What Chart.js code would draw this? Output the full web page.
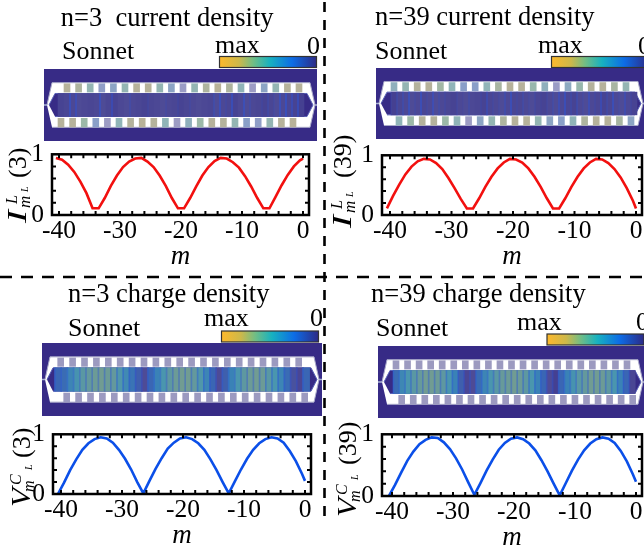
<!DOCTYPE html>
<html>
<head>
<meta charset="utf-8">
<script src="https://cdn.jsdelivr.net/npm/chart.js@4"></script>
<style>
  html, body { margin: 0; padding: 0; background: #fff; }
  #page { position: relative; width: 644px; height: 546px; overflow: hidden; filter: blur(0.45px); }
  canvas { position: absolute; }
  svg { position: absolute; left: 0; top: 0; font-family: "Liberation Serif", serif; fill: #000; }
</style>
</head>
<body>
<div id="page"></div>
<script>
const xTickLabels = [-40, -30, -20, -10, 0];
const yTickLabels = [0, 1];

// m positions of the sampled curve points
const mSamples = [-40.5, -39.5, -38.5, -37.5, -36.5, -35.5, -34.5, -33.5, -32.5, -31.5, -30.5, -29.5, -28.5, -27.5,
    -26.5, -25.5, -24.5, -23.5, -22.5, -21.5, -20.5, -19.5, -18.5, -17.5, -16.5, -15.5, -14.5, -13.5,
    -12.5, -11.5, -10.5, -9.5, -8.5, -7.5, -6.5, -5.5, -4.5, -3.5, -2.5, -1.5, -0.5, 0];

const currentN3 = [.94, .91, .83, .71, .55, .36, .11, .11, .28, .48, .65, .79, .88, .93,
    .94, .88, .79, .65, .48, .28, .11, .11, .28, .47, .65, .79, .89, .94,
    .93, .87, .78, .64, .47, .28, .11, .11, .30, .49, .66, .80, .90, .93];
const currentN39 = [.11, .32, .51, .68, .81, .90, .94, .93, .87, .77, .62, .45, .27, .11,
    .11, .28, .47, .64, .78, .88, .94, .93, .88, .78, .64, .47, .28, .11,
    .11, .28, .47, .64, .78, .88, .94, .93, .87, .77, .63, .45, .24, .11];
const chargeN3 = [.00, .19, .40, .58, .74, .85, .92, .95, .93, .86, .74, .59, .41, .20,
    .01, .22, .42, .60, .76, .86, .93, .95, .92, .85, .74, .58, .40, .20,
    .01, .21, .41, .59, .74, .85, .92, .95, .93, .86, .72, .55, .34, .22];
const chargeN39 = [.00, .18, .38, .57, .72, .84, .91, .95, .94, .87, .76, .61, .43, .22,
    .02, .21, .41, .59, .75, .86, .93, .95, .92, .85, .74, .58, .40, .20,
    .01, .21, .41, .59, .74, .85, .92, .95, .93, .86, .73, .56, .35, .23];

// field strength per feedline cell, picked off the Sonnet images (0 = dark, 1 = max)
const stripsCurN3 = [.09, .10, .11, .12, .11, .10, .11, .12, .10, .09, .11, .12, .11, .10, .09, .10, .11, .12, .11, .10, .09,
    .10, .11, .12, .11, .10, .12, .11, .10, .09, .11, .12, .11, .10, .09, .10, .12, .11, .10, .09, .08];
const linesCurN3 = [0, 0, .35, .3, 0, 0, 0, .35, 0, .3, 0, 0, .15, 0, 0, .1, 0, 0, .1, 0, .1,
    0, .1, 0, 0, 0, .2, .35, .1, .35, 0, .35, .15, 0, .1, .15, .1, .35, .4, .3, .35];
const stripsCurN39 = [.08, .10, .11, .12, .11, .10, .11, .12, .11, .10, .09, .11, .12, .11, .10, .09, .10, .11, .12, .11, .10,
    .10, .11, .12, .10, .09, .11, .12, .11, .10, .09, .11, .12, .11, .10, .09, .10, .11, .12, .11, .09];
const linesCurN39 = [.1, .15, .2, .35, .1, .35, .1, .3, .15, .1, 0, .1, .05, .15, 0, .1, .25, .1, .1, .2, .35,
    .1, .15, .1, .1, .05, .1, .15, .3, .35, .15, .2, .1, .3, .1, .3, .15, .35, .1, .25, .1];
const stripsChgN3 = [.20, .22, .32, .40, .50, .55, .58, .60, .58, .55, .45, .35, .25, .18, .12, .20, .30, .42, .52, .58, .60,
    .60, .55, .45, .32, .20, .12, .18, .30, .42, .52, .58, .60, .58, .50, .42, .32, .22, .14, .10, .20];
const linesChgN3 = [.25, .25, .25, .25, .25, .25, .25, .25, .25, .25, .25, .25, .25, .25, .25, .25, .25, .25, .25, .25, .25,
    .25, .25, .25, .25, .25, .25, .25, .25, .25, .25, .25, .25, .25, .25, .25, .25, .25, .25, .25, .25];
const stripsChgN39 = [.22, .33, .42, .50, .56, .60, .60, .58, .52, .42, .30, .18, .10, .12, .22, .32, .42, .50, .56, .58, .60,
    .58, .52, .42, .30, .20, .12, .08, .20, .30, .40, .50, .55, .60, .60, .58, .52, .42, .30, .20, .10];
const linesChgN39 = [.25, .25, .25, .25, .25, .25, .25, .25, .25, .25, .25, .25, .25, .25, .25, .25, .25, .25, .25, .25, .25,
    .25, .25, .25, .25, .25, .25, .25, .25, .25, .25, .25, .25, .25, .25, .25, .25, .25, .25, .25, .25];

// resonator pads, 21 per row
const padsTopCurN3 = [.85, .75, .5, .2, .3, .5, .85, .85, .5, .3, .12, .5, .75, .9, .75, .45, .1, .3, .5, .85, .85];
const padsBotCurN3 = [.85, .85, .6, .25, .1, .45, .8, .9, .8, .45, .1, .4, .6, .85, .8, .5, .25, .2, .5, .85, .9];
const padsTopCurN39 = [.4, .5, .8, .85, .65, .45, .25, .25, .45, .7, .85, .85, .55, .4, .12, .35, .55, .8, .85, .7, .5];
const padsBotCurN39 = [.45, .6, .8, .8, .6, .45, .1, .3, .5, .75, .85, .85, .5, .3, .25, .45, .75, .85, .85, .7, .3];
const padsChg = [.05, .05, .05, .05, .05, .05, .05, .05, .05, .05, .05, .05, .05, .05, .05, .05, .05, .05, .05, .05, .05];

const RED = '#f2100f', BLUE = '#0b4fe8', PANEL_BG = '#372b86';
const SERIF = '"Liberation Serif", serif';

const stripStops = [[0, '#332b88'], [.12, '#4e4b96'], [.2, '#3a66b4'], [.3, '#3a82b6'], [.42, '#4a96ae'], [.55, '#64999c'], [.65, '#7f9f88'], [1, '#c4b078']];
const padStops = [[0, '#9a98bb'], [.1, '#9d9cc4'], [.25, '#8a9fc8'], [.45, '#90b4b8'], [.6, '#9cb8a8'], [.8, '#b4b29c'], [1, '#bcb296']];

function ramp(stops, v) {
    let i = 1;
    while (i < stops.length - 1 && v > stops[i][0]) i++;
    const [v0, c0] = stops[i - 1], [v1, c1] = stops[i];
    const t = Math.min(1, Math.max(0, (v - v0) / (v1 - v0)));
    const ch = (c, k) => parseInt(c.substr(1 + k * 2, 2), 16);
    return `rgb(${[0, 1, 2].map(k => Math.round(ch(c0, k) + (ch(c1, k) - ch(c0, k)) * t)).join(',')})`;
}

const page = document.getElementById('page');

function addCanvas(left, top, width, height) {
    const c = document.createElement('canvas');
    c.width = width;
    c.height = height;
    c.style.left = left + 'px';
    c.style.top = top + 'px';
    page.appendChild(c);
    return c;
}

// inward ticks on all four sides plus a heavy frame
const framePlugin = {
    id: 'frame',
    afterDraw(chart) {
        const { ctx, chartArea: a, scales: { x, y } } = chart;
        ctx.save();
        ctx.strokeStyle = '#000';
        ctx.lineWidth = 2;
        ctx.beginPath();
        x.ticks.filter(t => t.value >= x.min && t.value <= x.max).forEach(t => {
            const p = x.getPixelForValue(t.value);
            ctx.moveTo(p, a.top); ctx.lineTo(p, a.top + 4);
            ctx.moveTo(p, a.bottom); ctx.lineTo(p, a.bottom - 4);
        });
        y.ticks.filter(t => t.value > y.min && t.value < y.max).forEach(t => {
            const p = y.getPixelForValue(t.value);
            ctx.moveTo(a.left, p); ctx.lineTo(a.left + 4, p);
            ctx.moveTo(a.right, p); ctx.lineTo(a.right - 4, p);
        });
        ctx.stroke();
        ctx.lineWidth = 2.5;
        ctx.strokeRect(a.left, a.top, a.right - a.left, a.bottom - a.top);
        ctx.restore();
    }
};

function renderCurve(box, values, color) {
    const padL = 40, padT = 12, padR = 4, padB = 58;
    const width = Math.min(box.right + padR, 644) - (box.left - padL);
    const canvas = addCanvas(box.left - padL, box.top - padT, width, box.bottom - box.top + padT + padB);
    const pxPerM = (box.zero - box.minus40) / 40;
    new Chart(canvas, {
        type: 'scatter',
        data: {
            datasets: [{
                data: mSamples.map((m, i) => ({ x: m, y: values[i] })),
                showLine: true,
                borderColor: color,
                borderWidth: 2.6,
                pointRadius: 0,
                tension: 0
            }]
        },
        plugins: [framePlugin],
        options: {
            responsive: false,
            animation: false,
            layout: { padding: { top: padT, right: width - padL - (box.right - box.left) } },
            plugins: { legend: { display: false }, tooltip: { enabled: false } },
            scales: {
                x: {
                    min: (box.left - box.zero) / pxPerM,
                    max: (box.right - box.zero) / pxPerM,
                    grid: { display: false },
                    border: { display: false },
                    afterFit: s => { s.height = padB; },
                    title: { display: true, text: 'm', color: '#000', padding: 0, font: { family: SERIF, size: 27, style: 'italic' } },
                    ticks: {
                        stepSize: 2,
                        includeBounds: false,
                        autoSkip: false,
                        maxRotation: 0,
                        minRotation: 0,
                        padding: -7,
                        color: '#000',
                        font: { family: SERIF, size: 25.5 },
                        callback: v => xTickLabels.includes(v) ? String(v) : ''
                    }
                },
                y: {
                    min: 0,
                    max: 1,
                    grid: { display: false },
                    border: { display: false },
                    afterFit: s => { s.width = padL; },
                    ticks: {
                        stepSize: 0.2,
                        autoSkip: false,
                        padding: 0,
                        color: '#000',
                        font: { family: SERIF, size: 25.5 },
                        callback: v => yTickLabels.includes(v) ? String(v) : ''
                    }
                }
            }
        }
    });
}

// Sonnet field map: feedline cells and pads are floating bars on a cell-index axis
function renderFieldMap(p) {
    const canvas = addCanvas(p.left, p.top, p.width, p.height);
    canvas.style.background = PANEL_BG;
    const toCell = px => (px - p.cellsLeft) / p.cellPx - 0.5;
    const xMin = toCell(p.left), xMax = toCell(p.left + p.width);
    const L = p.shapeLeft, R = p.shapeRight;

    const outline = [[L - 5, .5], [L, .81], [R, .81], [R + 5, .5], [R, .19], [L, .19]];
    const inner = [[L - 3, .5], [L + 3, .66], [R - 3, .66], [R + 3, .5], [R - 3, .34], [L + 3, .34]];
    const poly = a => a.map(([x, y]) => ({ x: toCell(x), y }));
    const pads = (vals, start, lo, hi) => vals.map((v, j) => ({ x: toCell(start + j * p.padPitch), y: [lo, hi] }));

    new Chart(canvas, {
        type: 'bar',
        data: {
            datasets: [
                { data: pads(p.padsTop, p.padTopX, .68, .795), backgroundColor: p.padsTop.map(v => ramp(padStops, v)), barThickness: 6, grouped: false, order: 1 },
                { data: pads(p.padsBot, p.padBotX, .195, .315), backgroundColor: p.padsBot.map(v => ramp(padStops, v)), barThickness: 6, grouped: false, order: 1 },
                { data: p.lines.map((v, i) => ({ x: i - 0.5, y: [.34, .66] })), backgroundColor: p.lines.map(v => v > 0 ? `rgba(45,85,215,${Math.min(1, v * 1.7)})` : 'transparent'), barThickness: 1, grouped: false, order: 2 },
                { data: p.strips.map((v, i) => ({ x: i, y: [.34, .66] })), backgroundColor: p.strips.map(v => ramp(stripStops, v)), barThickness: Math.ceil(p.cellPx), grouped: false, order: 3 },
                { type: 'line', data: poly(inner), fill: 'shape', backgroundColor: PANEL_BG, borderColor: '#5a63b8', borderWidth: 1, pointRadius: 0, tension: 0, order: 4 },
                { type: 'line', data: poly(outline), fill: 'shape', backgroundColor: '#fff', borderColor: '#a9a9c9', borderWidth: 1, pointRadius: 0, tension: 0, order: 5 },
                { type: 'line', data: [{ x: xMin, y: .5 }, { x: toCell(L - 5), y: .5 }], borderColor: '#a9b3d4', borderWidth: 1.5, pointRadius: 0, order: 6 },
                { type: 'line', data: [{ x: toCell(R + 5), y: .5 }, { x: xMax, y: .5 }], borderColor: '#a9b3d4', borderWidth: 1.5, pointRadius: 0, order: 6 }
            ]
        },
        options: {
            responsive: false,
            animation: false,
            layout: { padding: 0 },
            plugins: { legend: { display: false }, tooltip: { enabled: false } },
            scales: {
                x: { type: 'linear', min: xMin, max: xMax, offset: false, display: false },
                y: { min: 0, max: 1, display: false }
            }
        }
    });
}

// annotations as svg text so baselines are exact
const svgNS = 'http://www.w3.org/2000/svg';
const svg = document.createElementNS(svgNS, 'svg');
svg.setAttribute('width', 644);
svg.setAttribute('height', 546);

function el(name, attrs, text, parent) {
    const n = document.createElementNS(svgNS, name);
    Object.entries(attrs).forEach(([k, v]) => n.setAttribute(k, v));
    if (text) n.textContent = text;
    (parent || svg).appendChild(n);
    return n;
}

function addText(x, y, str, size) {
    el('text', { x, y, 'font-size': size, style: 'white-space:pre' }, str);
}

function addColorbar(x, y, w, h) {
    el('rect', { x, y, width: w, height: h, fill: 'url(#cbar)', stroke: '#333', 'stroke-width': 1.2 });
}

// rotated y label: baseline origin (ox, oy), up the page is +x in the group
function addYLabel(ox, oy, main, sup, sub, tail, o) {
    const g = el('g', { transform: `translate(${ox} ${oy}) rotate(-90)` });
    el('text', { x: 0, y: 0, 'font-size': 28, 'font-style': 'italic', textLength: o.mainLen, lengthAdjust: 'spacingAndGlyphs' }, main, g);
    el('text', { x: o.m, y: 4, 'font-size': o.mSize, 'font-style': 'italic' }, 'm', g);
    el('text', { x: o.sup, y: -9, 'font-size': 16, 'font-style': 'italic' }, sup, g);
    el('text', { x: o.sub, y: 2, 'font-size': 10, 'font-style': 'italic' }, sub, g);
    el('text', { x: o.tail, y: 0, 'font-size': 26 }, tail, g);
}

const defs = el('defs', {});
const grad = el('linearGradient', { id: 'cbar' }, null, defs);
[[0, '#fdb92c'], [.2, '#cdb84a'], [.35, '#6fbd86'], [.52, '#17b1c0'], [.75, '#0d6ce6'], [1, '#2d2a86']].forEach(([o, c]) => {
    el('stop', { offset: o, 'stop-color': c }, null, grad);
});

function drawFrameLines() {
    el('line', { x1: 324.5, y1: 2, x2: 324.5, y2: 522, stroke: '#000', 'stroke-width': 2.6, 'stroke-dasharray': '10 8' });
    el('line', { x1: 0, y1: 277, x2: 644, y2: 277, stroke: '#000', 'stroke-width': 2.6, 'stroke-dasharray': '12 9' });
}

function init() {
    renderFieldMap({ left: 44, top: 69, width: 273, height: 72, cellsLeft: 58, cellPx: 6, shapeLeft: 52, shapeRight: 310, padPitch: 11.6, padTopX: 67, padBotX: 61, strips: stripsCurN3, lines: linesCurN3, padsTop: padsTopCurN3, padsBot: padsBotCurN3 });
    renderFieldMap({ left: 376, top: 68, width: 268, height: 71, cellsLeft: 391, cellPx: 6, shapeLeft: 384, shapeRight: 638, padPitch: 11.6, padTopX: 394, padBotX: 399, strips: stripsCurN39, lines: linesCurN39, padsTop: padsTopCurN39, padsBot: padsBotCurN39 });
    renderFieldMap({ left: 42, top: 343, width: 280, height: 73, cellsLeft: 55, cellPx: 6.2, shapeLeft: 50, shapeRight: 314, padPitch: 11.9, padTopX: 60.7, padBotX: 66.7, strips: stripsChgN3, lines: linesChgN3, padsTop: padsChg, padsBot: padsChg });
    renderFieldMap({ left: 378, top: 346, width: 266, height: 72, cellsLeft: 393.3, cellPx: 5.9, shapeLeft: 387, shapeRight: 638, padPitch: 11.55, padTopX: 396, padBotX: 401.7, strips: stripsChgN39, lines: linesChgN39, padsTop: padsChg, padsBot: padsChg });

    renderCurve({ left: 52, right: 309, top: 151, bottom: 215, zero: 303, minus40: 59 }, currentN3, RED);
    renderCurve({ left: 382, right: 642, top: 152, bottom: 215, zero: 636, minus40: 390 }, currentN39, RED);
    renderCurve({ left: 53, right: 311, top: 431, bottom: 494, zero: 305, minus40: 61 }, chargeN3, BLUE);
    renderCurve({ left: 382, right: 642, top: 431, bottom: 496, zero: 636, minus40: 392 }, chargeN39, BLUE);

    addText(60.7, 26, 'n=3  current density', 26.5);
    addText(375, 25, 'n=39 current density', 26.5);
    addText(68, 302, 'n=3 charge density', 26.5);
    addText(371, 302, 'n=39 charge density', 26.5);

    addText(62, 59, 'Sonnet', 26);
    addText(375, 59, 'Sonnet', 26);
    addText(68, 336, 'Sonnet', 26);
    addText(376, 336, 'Sonnet', 26);

    addText(215, 53, 'max', 26); addText(307, 54, '0', 26);
    addText(538, 53, 'max', 26); addText(638, 54, '0', 26);
    addText(204, 326, 'max', 26); addText(310, 326, '0', 26);
    addText(517, 330, 'max', 26); addText(636, 330, '0', 26);

    addColorbar(219.5, 56.5, 97, 11);
    addColorbar(551.5, 56.5, 97, 11);
    addColorbar(221.5, 331, 97, 11);
    addColorbar(547, 334, 97, 11);

    addYLabel(26, 223, 'I', 'L', 'L', '(3)', { mainLen: 13, mSize: 17, m: 15, sup: 19, sub: 31, tail: 45 });
    addYLabel(351, 228, 'I', 'L', 'L', '(39)', { mainLen: 13, mSize: 17, m: 15, sup: 19, sub: 31, tail: 50 });
    addYLabel(30, 507, 'V', 'C', 'L', '(3)', { mainLen: 19, mSize: 16, m: 15, sup: 22, sub: 37, tail: 49 });
    addYLabel(356, 517, 'V', 'C', 'L', '(39)', { mainLen: 19, mSize: 16, m: 15, sup: 22, sub: 37, tail: 52 });

    drawFrameLines();
    page.appendChild(svg);
}

init();
</script>
</body>
</html>
